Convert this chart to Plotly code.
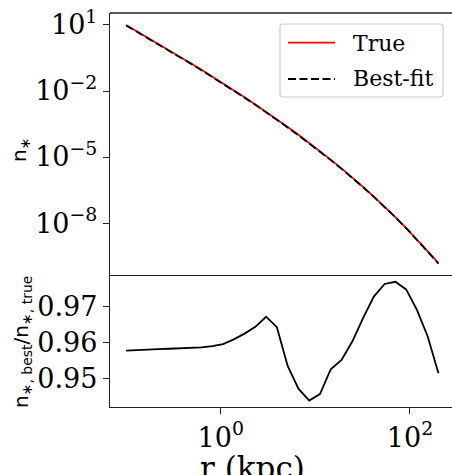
import plotly.graph_objects as go

# ---- data ----
r_kpc = [0.1, 0.130, 0.1689, 0.2196, 0.2853, 0.3708, 0.4819, 0.6263, 0.8140, 1.058,
         1.375, 1.787, 2.322, 3.018, 3.922, 5.098, 6.625, 8.610, 11.19, 14.54,
         18.90, 24.57, 31.93, 41.49, 53.93, 70.08, 91.08, 118.4, 153.9, 200.0]
n_true = [1.00e1, 5.19e0, 2.69e0, 1.38e0, 7.10e-1, 3.61e-1, 1.83e-1, 9.16e-2, 4.55e-2, 2.23e-2,
          1.08e-2, 5.19e-3, 2.45e-3, 1.14e-3, 5.20e-4, 2.33e-4, 1.03e-4, 4.42e-5, 1.86e-5, 7.62e-6,
          3.04e-6, 1.18e-6, 4.42e-7, 1.60e-7, 5.58e-8, 1.87e-8, 5.98e-9, 1.82e-9, 5.24e-10, 1.51e-10]
ratio = [0.9578, 0.9580, 0.9581, 0.9582, 0.9583, 0.9584, 0.9585, 0.9587, 0.9590, 0.9596,
         0.9609, 0.9625, 0.9644, 0.9672, 0.9643, 0.9535, 0.9472, 0.9439, 0.9457, 0.9526,
         0.9552, 0.9603, 0.9668, 0.9728, 0.9763, 0.9769, 0.9748, 0.9691, 0.9617, 0.9515]
n_best = [t * q for t, q in zip(n_true, ratio)]

series_names = ["True", "Best-fit"]
top_ticks = [1e1, 1e-2, 1e-5, 1e-8]
top_ticktext = ["10<sup>1</sup>", "10<sup>\u22122</sup>", "10<sup>\u22125</sup>", "10<sup>\u22128</sup>"]
bot_ticks = [0.95, 0.96, 0.97]
bot_ticktext = ["0.95", "0.96", "0.97"]
x_ticks = [1, 100]
x_ticktext = ["10<sup>0</sup>", "10<sup>2</sup>"]

SERIF = "DejaVu Serif"
SANS = "DejaVu Sans"
FS = 27
LC = "#222222"
LW = 1.4
DASH = "8px,3.5px"

# pixel layout helpers
L, R, T, B = 110, 452, 13, 407
def px(X):
    return (X - L) / (R - L)
def py(Y):
    return (B - Y) / (B - T)

fig = go.Figure()
fig.add_trace(go.Scatter(x=r_kpc, y=n_true, mode="lines", name=series_names[0], showlegend=False,
                         line=dict(color="red", width=1.8), xaxis="x2", yaxis="y2"))
fig.add_trace(go.Scatter(x=r_kpc, y=n_best, mode="lines", name=series_names[1], showlegend=False,
                         line=dict(color="black", width=1.8, dash=DASH),
                         xaxis="x2", yaxis="y2"))
fig.add_trace(go.Scatter(x=r_kpc, y=ratio, mode="lines", showlegend=False,
                         line=dict(color="black", width=1.8), xaxis="x", yaxis="y"))

split = py(275)

axis_common = dict(showgrid=False, zeroline=False, showline=True, linecolor=LC,
                   linewidth=LW, tickcolor=LC, tickwidth=LW, ticklen=6, ticks="outside",
                   tickfont=dict(family=SERIF, size=FS, color="black"))

# legend box (rounded) drawn manually
bx0, bx1, by0, by1, rr = px(280), px(443), py(97), py(24), 3
rx = rr / (R - L)
ry = rr / (B - T)
box_path = (f"M{bx0+rx},{by1} L{bx1-rx},{by1} Q{bx1},{by1} {bx1},{by1-ry} "
            f"L{bx1},{by0+ry} Q{bx1},{by0} {bx1-rx},{by0} L{bx0+rx},{by0} "
            f"Q{bx0},{by0} {bx0},{by0+ry} L{bx0},{by1-ry} Q{bx0},{by1} {bx0+rx},{by1} Z")

shapes = [
    dict(type="line", xref="paper", yref="paper", x0=0, x1=1, y0=1, y1=1,
         line=dict(color=LC, width=LW)),
    dict(type="path", xref="paper", yref="paper", path=box_path,
         fillcolor="rgba(255,255,255,0.8)", line=dict(color="#cccccc", width=1.2)),
    dict(type="line", xref="paper", yref="paper", x0=px(288), x1=px(335), y0=py(42.7), y1=py(42.7),
         line=dict(color="red", width=1.8)),
    dict(type="line", xref="paper", yref="paper", x0=px(288), x1=px(335), y0=py(79), y1=py(79),
         line=dict(color="black", width=1.8, dash=DASH)),
]

fig.update_layout(
    width=452, height=475,
    margin=dict(l=L, r=452 - R, t=T, b=475 - B),
    paper_bgcolor="white", plot_bgcolor="white",
    showlegend=False,
    xaxis=dict(type="log", range=[-1.17, 2.444], domain=[0, 1], anchor="y",
               tickvals=x_ticks, ticktext=x_ticktext, **axis_common),
    yaxis=dict(range=[0.9421, 0.9788], domain=[0, split], anchor="x",
               tickvals=bot_ticks, ticktext=bot_ticktext, **axis_common),
    xaxis2=dict(type="log", range=[-1.17, 2.444], domain=[0, 1], anchor="y2",
                matches="x", showticklabels=False, showgrid=False, zeroline=False,
                showline=True, linecolor=LC, linewidth=LW, ticks=""),
    yaxis2=dict(type="log", range=[-10.36, 1.545], domain=[split, 1], anchor="x2",
                tickvals=top_ticks, ticktext=top_ticktext, **axis_common),
    shapes=shapes,
    annotations=[
        dict(text=series_names[0], xref="paper", yref="paper", x=px(351), y=py(43),
             xanchor="left", yanchor="middle", showarrow=False,
             font=dict(family=SERIF, size=22, color="black")),
        dict(text=series_names[1], xref="paper", yref="paper", x=px(351), y=py(79),
             xanchor="left", yanchor="middle", showarrow=False,
             font=dict(family=SERIF, size=22, color="black")),
        dict(text="r (kpc)", xref="paper", yref="paper", x=px(252),
             y=py(468), xanchor="center", yanchor="middle", showarrow=False,
             font=dict(family=SERIF, size=31, color="black")),
        dict(text="n<sub>\u2217</sub>", xref="paper", yref="paper", x=px(20),
             y=py(150), xanchor="center", yanchor="middle", showarrow=False,
             textangle=-90, font=dict(family=SANS, size=20, color="black")),
        dict(text="n<sub>\u2217, best</sub>/n<sub>\u2217, true</sub>", xref="paper", yref="paper",
             x=px(22), y=py(342), xanchor="center", yanchor="middle",
             showarrow=False, textangle=-90, font=dict(family=SANS, size=20, color="black")),
    ],
)

fig.write_html("out.html")
